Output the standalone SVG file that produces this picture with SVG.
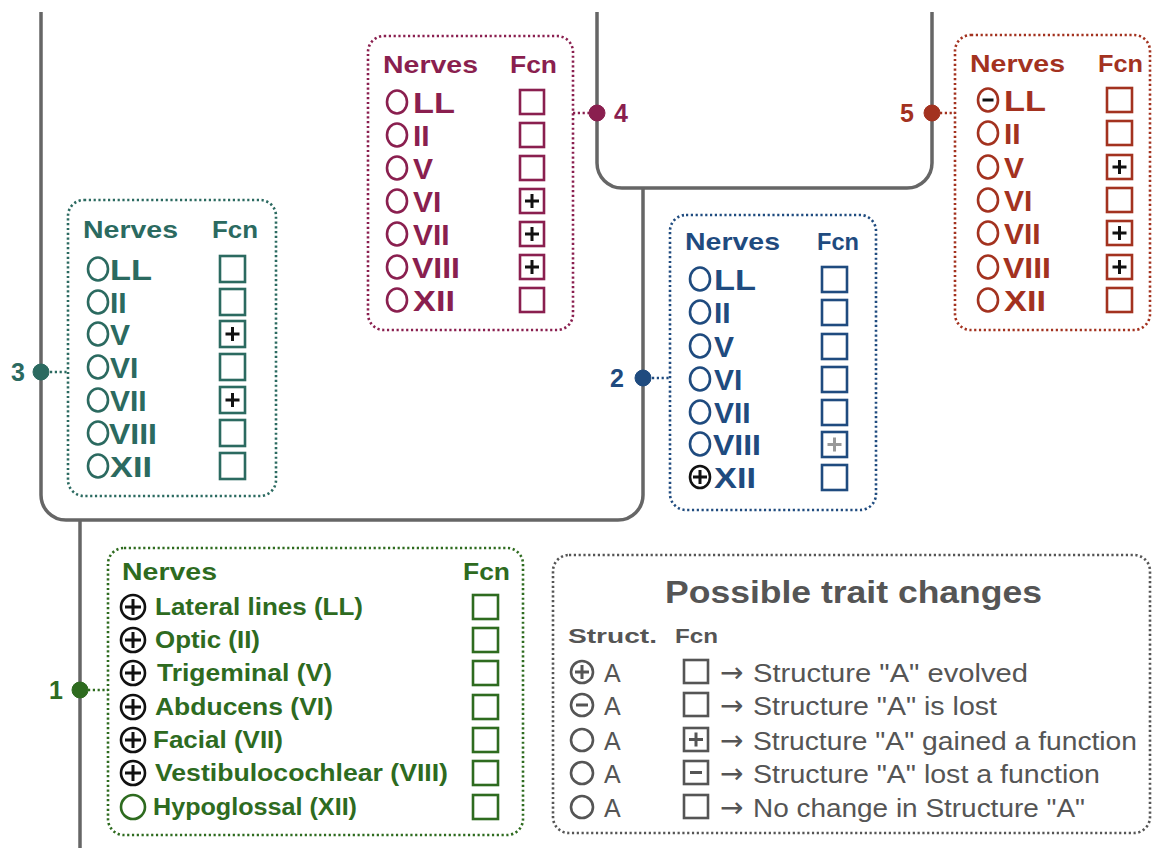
<svg xmlns="http://www.w3.org/2000/svg" width="1153" height="848" viewBox="0 0 1153 848">
<style>
.bg{fill:#fff}
.tree{fill:none;stroke:#666;stroke-width:3.5}
.box{fill:#fff;stroke-width:2.6;stroke-dasharray:2.2 2.6}
.con{fill:none;stroke-width:2.6;stroke-dasharray:2.2 2.6}
.hd{font-family:"Liberation Sans",Arial,sans-serif;font-weight:bold;font-size:24px}
.nv{font-family:"Liberation Sans",Arial,sans-serif;font-weight:bold;font-size:30px}
.n1{font-family:"Liberation Sans",Arial,sans-serif;font-weight:bold;font-size:23px}
.lbl{font-family:"Liberation Sans",Arial,sans-serif;font-weight:bold;font-size:25px}
.o{fill:none;stroke-width:2.6}
.sq{fill:none;stroke-width:2.6}
.pl{stroke:#111;stroke-width:3;fill:none}
.plg{stroke:#999;stroke-width:3;fill:none}
.teal{fill:#2b6a60;stroke:#2b6a60}
.maroon{fill:#8a1f4f;stroke:#8a1f4f}
.red{fill:#a3321f;stroke:#a3321f}
.blue{fill:#1f4b7f;stroke:#1f4b7f}
.green{fill:#2e6b1f;stroke:#2e6b1f}
.t-teal{fill:#2b6a60}
.t-maroon{fill:#8a1f4f}
.t-red{fill:#a3321f}
.t-blue{fill:#1f4b7f}
.t-green{fill:#2e6b1f}
.s-teal{stroke:#2b6a60}
.s-maroon{stroke:#8a1f4f}
.s-red{stroke:#a3321f}
.s-blue{stroke:#1f4b7f}
.s-green{stroke:#2e6b1f}
.s-gray{stroke:#555}
.lg{font-family:"Liberation Sans",Arial,sans-serif;fill:#555}
.arr{font-family:"DejaVu Sans",sans-serif;font-size:28px;fill:#555}
</style>
<rect class="bg" x="0" y="0" width="1153" height="848"/>

<g id="connectors">
  <path class="tree" d="M41,12 V495 A25,25 0 0 0 66,520 H618 A25,25 0 0 0 643,495 V188"/>
  <path class="tree" d="M80,520 V848"/>
  <path class="tree" d="M597,12 V163 A25,25 0 0 0 622,188 H907 A25,25 0 0 0 932,163 V12"/>
  <path class="con s-teal" d="M50,372 H68"/>
  <path class="con s-maroon" d="M573,113 H589"/>
  <path class="con s-red" d="M940,113 H955"/>
  <path class="con s-blue" d="M652,378 H670"/>
  <path class="con s-green" d="M88,690 H108"/>
</g>

<g id="dot-1">
  <circle cx="80" cy="690" r="8" class="green"/>
  <text x="49" y="699" class="lbl t-green">1</text>
</g>
<g id="dot-2">
  <circle cx="643" cy="378" r="8" class="blue"/>
  <text x="610" y="387" class="lbl t-blue">2</text>
</g>
<g id="dot-3">
  <circle cx="41" cy="372" r="8" class="teal"/>
  <text x="11" y="381" class="lbl t-teal">3</text>
</g>
<g id="dot-4">
  <circle cx="597" cy="113" r="8" class="maroon"/>
  <text x="614" y="122" class="lbl t-maroon">4</text>
</g>
<g id="dot-5">
  <circle cx="932" cy="113" r="8" class="red"/>
  <text x="900" y="122" class="lbl t-red">5</text>
</g>

<!-- Box 3 teal -->
<g id="box-3">
  <rect class="box s-teal" x="68" y="200" width="208" height="296" rx="16"/>
  <text x="83" y="238" class="hd t-teal" textLength="95" lengthAdjust="spacingAndGlyphs">Nerves</text>
  <text x="212" y="238" class="hd t-teal" textLength="46" lengthAdjust="spacingAndGlyphs">Fcn</text>
  <g class="s-teal">
    <ellipse class="o" cx="98" cy="269" rx="10" ry="11.5"/>
    <ellipse class="o" cx="98" cy="302" rx="10" ry="11.5"/>
    <ellipse class="o" cx="98" cy="334" rx="10" ry="11.5"/>
    <ellipse class="o" cx="98" cy="367" rx="10" ry="11.5"/>
    <ellipse class="o" cx="98" cy="400" rx="10" ry="11.5"/>
    <ellipse class="o" cx="98" cy="433" rx="10" ry="11.5"/>
    <ellipse class="o" cx="98" cy="466" rx="10" ry="11.5"/>
    <rect class="sq" x="220" y="256" width="25" height="26"/>
    <rect class="sq" x="220" y="289" width="25" height="26"/>
    <rect class="sq" x="220" y="321" width="25" height="26"/>
    <rect class="sq" x="220" y="354" width="25" height="26"/>
    <rect class="sq" x="220" y="387" width="25" height="26"/>
    <rect class="sq" x="220" y="420" width="25" height="26"/>
    <rect class="sq" x="220" y="453" width="25" height="26"/>
  </g>
  <path class="pl" d="M225.5,334 H239.5 M232.5,327 V341 M225.5,400 H239.5 M232.5,393 V407"/>
  <g class="nv t-teal">
    <text x="110" y="280" textLength="42" lengthAdjust="spacingAndGlyphs">LL</text>
    <text x="110" y="313">II</text>
    <text x="110" y="345">V</text>
    <text x="110" y="378">VI</text>
    <text x="110" y="411">VII</text>
    <text x="109" y="444" textLength="48" lengthAdjust="spacingAndGlyphs">VIII</text>
    <text x="110" y="477" textLength="42" lengthAdjust="spacingAndGlyphs">XII</text>
  </g>
</g>

<!-- Box 4 maroon -->
<g id="box-4">
  <rect class="box s-maroon" x="368" y="36" width="205" height="294" rx="16"/>
  <text x="383" y="73" class="hd t-maroon" textLength="95" lengthAdjust="spacingAndGlyphs">Nerves</text>
  <text x="510" y="73" class="hd t-maroon" textLength="47" lengthAdjust="spacingAndGlyphs">Fcn</text>
  <g class="s-maroon">
    <ellipse class="o" cx="397" cy="102" rx="10" ry="11.5"/>
    <ellipse class="o" cx="397" cy="135" rx="10" ry="11.5"/>
    <ellipse class="o" cx="397" cy="168" rx="10" ry="11.5"/>
    <ellipse class="o" cx="397" cy="201" rx="10" ry="11.5"/>
    <ellipse class="o" cx="397" cy="234" rx="10" ry="11.5"/>
    <ellipse class="o" cx="397" cy="267" rx="10" ry="11.5"/>
    <ellipse class="o" cx="397" cy="300" rx="10" ry="11.5"/>
    <rect class="sq" x="520" y="90" width="24" height="24"/>
    <rect class="sq" x="520" y="123" width="24" height="24"/>
    <rect class="sq" x="520" y="156" width="24" height="24"/>
    <rect class="sq" x="520" y="189" width="24" height="24"/>
    <rect class="sq" x="520" y="222" width="24" height="24"/>
    <rect class="sq" x="520" y="255" width="24" height="24"/>
    <rect class="sq" x="520" y="288" width="24" height="24"/>
  </g>
  <path class="pl" d="M525,201 H539 M532,194 V208 M525,234 H539 M532,227 V241 M525,267 H539 M532,260 V274"/>
  <g class="nv t-maroon">
    <text x="413" y="113" textLength="42" lengthAdjust="spacingAndGlyphs">LL</text>
    <text x="413" y="146">II</text>
    <text x="413" y="179">V</text>
    <text x="413" y="212">VI</text>
    <text x="413" y="245">VII</text>
    <text x="412" y="278" textLength="48" lengthAdjust="spacingAndGlyphs">VIII</text>
    <text x="413" y="311" textLength="42" lengthAdjust="spacingAndGlyphs">XII</text>
  </g>
</g>

<!-- Box 5 red -->
<g id="box-5">
  <rect class="box s-red" x="955" y="35" width="195" height="295" rx="16"/>
  <text x="970" y="72" class="hd t-red" textLength="95" lengthAdjust="spacingAndGlyphs">Nerves</text>
  <text x="1098" y="72" class="hd t-red" textLength="45" lengthAdjust="spacingAndGlyphs">Fcn</text>
  <g class="s-red">
    <ellipse class="o" cx="988" cy="100" rx="10" ry="11.5"/>
    <ellipse class="o" cx="988" cy="133" rx="10" ry="11.5"/>
    <ellipse class="o" cx="988" cy="167" rx="10" ry="11.5"/>
    <ellipse class="o" cx="988" cy="200" rx="10" ry="11.5"/>
    <ellipse class="o" cx="988" cy="233" rx="10" ry="11.5"/>
    <ellipse class="o" cx="988" cy="267" rx="10" ry="11.5"/>
    <ellipse class="o" cx="988" cy="300" rx="10" ry="11.5"/>
    <rect class="sq" x="1107" y="88" width="25" height="24"/>
    <rect class="sq" x="1107" y="121" width="25" height="24"/>
    <rect class="sq" x="1107" y="155" width="25" height="24"/>
    <rect class="sq" x="1107" y="188" width="25" height="24"/>
    <rect class="sq" x="1107" y="221" width="25" height="24"/>
    <rect class="sq" x="1107" y="255" width="25" height="24"/>
    <rect class="sq" x="1107" y="288" width="25" height="24"/>
  </g>
  <path class="pl" d="M982.5,100 H993.5"/>
  <path class="pl" d="M1112.5,167 H1126.5 M1119.5,160 V174 M1112.5,233 H1126.5 M1119.5,226 V240 M1112.5,267 H1126.5 M1119.5,260 V274"/>
  <g class="nv t-red">
    <text x="1004" y="111" textLength="42" lengthAdjust="spacingAndGlyphs">LL</text>
    <text x="1004" y="144">II</text>
    <text x="1004" y="178">V</text>
    <text x="1004" y="211">VI</text>
    <text x="1004" y="244">VII</text>
    <text x="1003" y="278" textLength="48" lengthAdjust="spacingAndGlyphs">VIII</text>
    <text x="1004" y="311" textLength="42" lengthAdjust="spacingAndGlyphs">XII</text>
  </g>
</g>

<!-- Box 2 blue -->
<g id="box-2">
  <rect class="box s-blue" x="670" y="215" width="206" height="295" rx="16"/>
  <text x="685" y="250" class="hd t-blue" textLength="95" lengthAdjust="spacingAndGlyphs">Nerves</text>
  <text x="817" y="250" class="hd t-blue" textLength="42" lengthAdjust="spacingAndGlyphs">Fcn</text>
  <g class="s-blue">
    <ellipse class="o" cx="700" cy="279" rx="10" ry="11.5"/>
    <ellipse class="o" cx="700" cy="312" rx="10" ry="11.5"/>
    <ellipse class="o" cx="700" cy="346" rx="10" ry="11.5"/>
    <ellipse class="o" cx="700" cy="379" rx="10" ry="11.5"/>
    <ellipse class="o" cx="700" cy="412" rx="10" ry="11.5"/>
    <ellipse class="o" cx="700" cy="444" rx="10" ry="11.5"/>
    <rect class="sq" x="822" y="267" width="25" height="25"/>
    <rect class="sq" x="822" y="300" width="25" height="25"/>
    <rect class="sq" x="822" y="334" width="25" height="25"/>
    <rect class="sq" x="822" y="367" width="25" height="25"/>
    <rect class="sq" x="822" y="400" width="25" height="25"/>
    <rect class="sq" x="822" y="432" width="25" height="25"/>
    <rect class="sq" x="822" y="465" width="25" height="25"/>
  </g>
  <ellipse class="o" cx="700" cy="477" rx="10" ry="11" stroke="#111"/>
  <path class="pl" d="M693,477 H707 M700,470 V484"/>
  <path class="plg" d="M827.5,444.5 H841.5 M834.5,437.5 V451.5"/>
  <g class="nv t-blue">
    <text x="714" y="290" textLength="42" lengthAdjust="spacingAndGlyphs">LL</text>
    <text x="714" y="323">II</text>
    <text x="714" y="357">V</text>
    <text x="714" y="390">VI</text>
    <text x="714" y="423">VII</text>
    <text x="713" y="455" textLength="48" lengthAdjust="spacingAndGlyphs">VIII</text>
    <text x="714" y="488" textLength="42" lengthAdjust="spacingAndGlyphs">XII</text>
  </g>
</g>

<!-- Box 1 green -->
<g id="box-1">
  <rect class="box s-green" x="108" y="548" width="415" height="287" rx="16"/>
  <text x="122" y="580" class="hd t-green" textLength="95" lengthAdjust="spacingAndGlyphs">Nerves</text>
  <text x="463" y="580" class="hd t-green" textLength="47" lengthAdjust="spacingAndGlyphs">Fcn</text>
  <g stroke="#111">
    <circle class="o" cx="133" cy="607" r="12"/>
    <circle class="o" cx="133" cy="640" r="12"/>
    <circle class="o" cx="133" cy="673" r="12"/>
    <circle class="o" cx="133" cy="707" r="12"/>
    <circle class="o" cx="133" cy="740" r="12"/>
    <circle class="o" cx="133" cy="773" r="12"/>
  </g>
  <path class="pl" d="M125,607 H141 M133,599 V615 M125,640 H141 M133,632 V648 M125,673 H141 M133,665 V681 M125,707 H141 M133,699 V715 M125,740 H141 M133,732 V748 M125,773 H141 M133,765 V781"/>
  <circle class="o s-green" cx="133" cy="807" r="12"/>
  <g class="s-green">
    <rect class="sq" x="473" y="595" width="25" height="24"/>
    <rect class="sq" x="473" y="628" width="25" height="24"/>
    <rect class="sq" x="473" y="661" width="25" height="24"/>
    <rect class="sq" x="473" y="695" width="25" height="24"/>
    <rect class="sq" x="473" y="728" width="25" height="24"/>
    <rect class="sq" x="473" y="761" width="25" height="24"/>
    <rect class="sq" x="473" y="795" width="25" height="24"/>
  </g>
  <g class="n1 t-green">
    <text x="155" y="615" textLength="208" lengthAdjust="spacingAndGlyphs">Lateral lines (LL)</text>
    <text x="155" y="648" textLength="105" lengthAdjust="spacingAndGlyphs">Optic (II)</text>
    <text x="157" y="681" textLength="175" lengthAdjust="spacingAndGlyphs">Trigeminal (V)</text>
    <text x="155" y="715" textLength="178" lengthAdjust="spacingAndGlyphs">Abducens (VI)</text>
    <text x="153" y="748" textLength="130" lengthAdjust="spacingAndGlyphs">Facial (VII)</text>
    <text x="155" y="781" textLength="293" lengthAdjust="spacingAndGlyphs">Vestibulocochlear (VIII)</text>
    <text x="153" y="815" textLength="204" lengthAdjust="spacingAndGlyphs">Hypoglossal (XII)</text>
  </g>
</g>

<!-- Legend -->
<g id="legend">
  <rect class="box s-gray" x="553" y="555" width="597" height="278" rx="16"/>
  <text x="665" y="603" class="lg" font-weight="bold" font-size="32" textLength="377" lengthAdjust="spacingAndGlyphs">Possible trait changes</text>
  <text x="568" y="643" class="lg" font-weight="bold" font-size="21" textLength="89" lengthAdjust="spacingAndGlyphs">Struct.</text>
  <text x="675" y="643" class="lg" font-weight="bold" font-size="21" textLength="43" lengthAdjust="spacingAndGlyphs">Fcn</text>
  <g class="s-gray">
    <circle class="o" cx="582" cy="672" r="11"/>
    <circle class="o" cx="582" cy="705" r="11"/>
    <circle class="o" cx="582" cy="740" r="11"/>
    <circle class="o" cx="582" cy="773" r="11"/>
    <circle class="o" cx="582" cy="807" r="11"/>
    <rect class="sq" x="684" y="660" width="24" height="23"/>
    <rect class="sq" x="684" y="693" width="24" height="23"/>
    <rect class="sq" x="684" y="728" width="24" height="23"/>
    <rect class="sq" x="684" y="761" width="24" height="23"/>
    <rect class="sq" x="684" y="795" width="24" height="23"/>
    <path fill="none" stroke-width="3" d="M575,672 H589 M582,665 V679 M576,705 H588 M689,739.5 H703 M696,732.5 V746.5 M690,772.5 H702"/>
  </g>
  <g class="lg" font-size="25">
    <text x="604" y="682">A</text>
    <text x="604" y="715">A</text>
    <text x="604" y="750">A</text>
    <text x="604" y="783">A</text>
    <text x="604" y="817">A</text>
  </g>
  <g class="arr">
    <text x="720" y="682">→</text>
    <text x="720" y="715">→</text>
    <text x="720" y="750">→</text>
    <text x="720" y="783">→</text>
    <text x="720" y="817">→</text>
  </g>
  <g class="lg" font-size="25">
    <text x="753" y="682" textLength="275" lengthAdjust="spacingAndGlyphs">Structure "A" evolved</text>
    <text x="753" y="715" textLength="244" lengthAdjust="spacingAndGlyphs">Structure "A" is lost</text>
    <text x="753" y="750" textLength="384" lengthAdjust="spacingAndGlyphs">Structure "A" gained a function</text>
    <text x="753" y="783" textLength="347" lengthAdjust="spacingAndGlyphs">Structure "A" lost a function</text>
    <text x="753" y="817" textLength="332" lengthAdjust="spacingAndGlyphs">No change in Structure "A"</text>
  </g>
</g>
</svg>
